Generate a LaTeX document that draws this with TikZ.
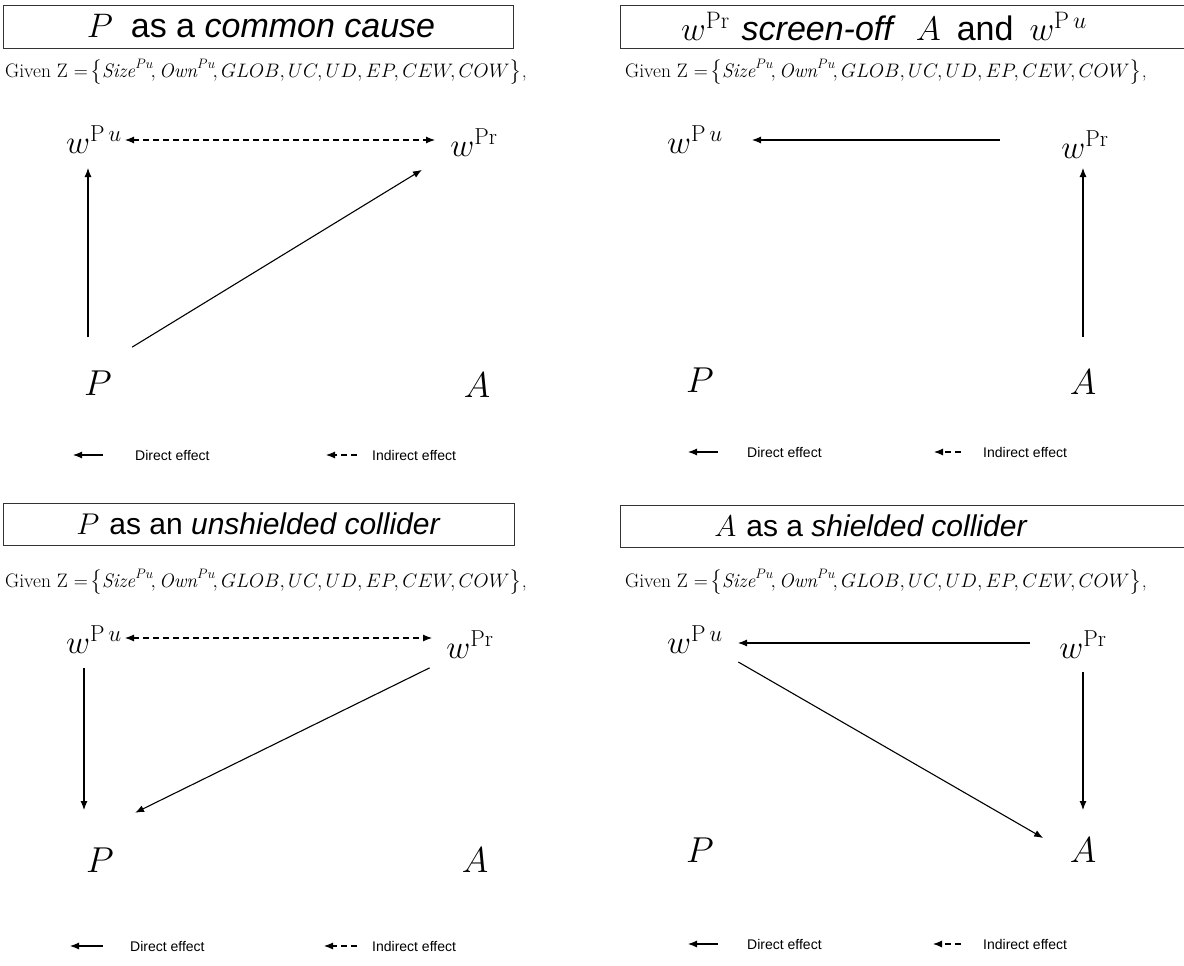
\RequirePackage{fix-cm}
\documentclass[tikz,border=0pt]{standalone}
\usepackage{amsmath}
\usepackage{fontspec}
\setsansfont{Liberation Sans}
\usetikzlibrary{positioning,arrows.meta}

\begin{document}
\begin{tikzpicture}[
  x=1pt, y=-1pt,
  every node/.style={inner sep=0pt},
  var/.style={font=\fontsize{36}{40}\selectfont},
  wvar/.style={font=\fontsize{33}{38}\selectfont},
  titlebox/.style={draw=black!80, line width=0.8pt, font=\sffamily\fontsize{30}{34}\selectfont},
  titlebig/.style={titlebox, font=\sffamily\fontsize{34}{38}\selectfont},
  given/.style={anchor=west, font=\fontsize{19.5}{22}\selectfont},
  keytext/.style={anchor=west, font=\sffamily\fontsize{14}{16}\selectfont},
  direct/.style={-{Latex[length=9pt,width=7pt]}, line width=1.1pt},
  indirect/.style={direct, dash pattern=on 6pt off 4pt}
]
  \useasboundingbox (0,0) rectangle (1184,966);
  \clip (0,0) rectangle (1184,966);

  % top left
  \node[titlebig, minimum width=510pt, minimum height=43pt] (t1) at (258,26.5)
    {\hspace*{6pt}$P$\hspace{18pt}as a \textit{common cause}};
  \node[given] (g1) at (5,72) {Given Z $=\!\big\{\mathit{Size}^{Pu}\!,\mathit{Own}^{Pu}\!,GLOB,UC,UD,EP,CEW,COW\big\}$,};
  \node[wvar] (wpu1) at (94,140) {$w^{\mathrm{P}\,u}$};
  \node[wvar] (wpr1) at (474,143) {$w^{\mathrm{Pr}}$};
  \node[var] (p1) at (98,383) {$P$};
  \node[var] (a1) at (477,385) {$A$};
  \draw[indirect, {Latex[length=9pt,width=7pt]}-{Latex[length=9pt,width=7pt]}, shorten <=31pt, shorten >=39pt]
    (wpu1.center) -- ([yshift=3pt]wpr1.center);
  \draw[direct, shorten <=46pt, shorten >=28pt] ([xshift=-10pt]p1.center) -- ([xshift=-6pt]wpu1.center);
  \draw[direct, shorten <=40pt, shorten >=61pt] ([yshift=15pt]p1.center) -- ([yshift=5pt]wpr1.center);
  \node[keytext] (dtxt1) at (135,455) {Direct effect};
  \node[keytext] (itxt1) at (372,455) {Indirect effect};
  \coordinate (dkey1) at (73,455);
  \coordinate (ikey1) at (326,455);
  \draw[direct] ([xshift=-32pt]dtxt1.west) -- (dkey1);
  \draw[indirect] ([xshift=-15pt]itxt1.west) -- (ikey1);

  % top right
  \node[titlebig, minimum width=580pt, minimum height=43pt] (t2) at (910,26.5)
    {$w^{\mathrm{Pr}}$\hspace{12pt}\textit{screen-off}\hspace{20pt}$A$\hspace{16pt}and\hspace{16pt}$w^{\mathrm{P}\,u}$\hspace*{52pt}};
  \node[given] (g2) at (625,72) {Given Z $=\!\big\{\mathit{Size}^{Pu}\!,\mathit{Own}^{Pu}\!,GLOB,UC,UD,EP,CEW,COW\big\}$,};
  \node[wvar] (wpu2) at (695,140) {$w^{\mathrm{P}\,u}$};
  \node[wvar] (wpr2) at (1085,145) {$w^{\mathrm{Pr}}$};
  \node[var] (p2) at (700,380) {$P$};
  \node[var] (a2) at (1083,382) {$A$};
  \draw[direct, shorten <=85pt, shorten >=57pt] ([yshift=5pt]wpr2.center) -- (wpu2.center);
  \draw[direct, shorten <=45pt, shorten >=23pt] (a2.center) -- ([xshift=-2pt]wpr2.center);
  \node[keytext] (dtxt2) at (747,452) {Direct effect};
  \node[keytext] (itxt2) at (983,452) {Indirect effect};
  \coordinate (dkey2) at (688,452);
  \coordinate (ikey2) at (934,452);
  \draw[direct] ([xshift=-29pt]dtxt2.west) -- (dkey2);
  \draw[indirect] ([xshift=-22pt]itxt2.west) -- (ikey2);

  % bottom left
  \node[titlebox, minimum width=511pt, minimum height=42pt] (t3) at (258.5,524)
    {$P$\hspace{10pt}as an \textit{unshielded collider}};
  \node[given] (g3) at (5,582) {Given Z $=\!\big\{\mathit{Size}^{Pu}\!,\mathit{Own}^{Pu}\!,GLOB,UC,UD,EP,CEW,COW\big\}$,};
  \node[wvar] (wpu3) at (94,640) {$w^{\mathrm{P}\,u}$};
  \node[wvar] (wpr3) at (470,645) {$w^{\mathrm{Pr}}$};
  \node[var] (p3) at (100,860) {$P$};
  \node[var] (a3) at (475,860) {$A$};
  \draw[indirect, {Latex[length=9pt,width=7pt]}-{Latex[length=9pt,width=7pt]}, shorten <=31pt, shorten >=38pt]
    ([yshift=2pt]wpu3.center) -- ([yshift=7pt]wpr3.center);
  \draw[direct, shorten <=28pt, shorten >=50pt] ([xshift=-10pt]wpu3.center) -- ([xshift=-16pt]p3.center);
  \draw[direct, shorten <=45pt, shorten >=39pt] ([yshift=-3pt]wpr3.center) -- ([yshift=30pt]p3.center);
  \node[keytext] (dtxt3) at (130,946) {Direct effect};
  \node[keytext] (itxt3) at (372,946) {Indirect effect};
  \coordinate (dkey3) at (70,946);
  \coordinate (ikey3) at (324,946);
  \draw[direct] ([xshift=-27pt]dtxt3.west) -- (dkey3);
  \draw[indirect] ([xshift=-15pt]itxt3.west) -- (ikey3);

  % bottom right
  \node[titlebox, minimum width=580pt, minimum height=42pt] (t4) at (910,526)
    {$A$\hspace{10pt}as a \textit{shielded collider}\hspace*{78pt}};
  \node[given] (g4) at (625,582) {Given Z $=\!\big\{\mathit{Size}^{Pu}\!,\mathit{Own}^{Pu}\!,GLOB,UC,UD,EP,CEW,COW\big\}$,};
  \node[wvar] (wpu4) at (695,640) {$w^{\mathrm{P}\,u}$};
  \node[wvar] (wpr4) at (1083,645) {$w^{\mathrm{Pr}}$};
  \node[var] (p4) at (700,850) {$P$};
  \node[var] (a4) at (1083,850) {$A$};
  \draw[direct, shorten <=53pt, shorten >=43pt] ([yshift=2pt]wpr4.center) -- ([yshift=-3pt]wpu4.center);
  \draw[direct, shorten <=50pt, shorten >=46pt] ([yshift=3pt]wpu4.center) -- ([yshift=-11pt]a4.center);
  \draw[direct, shorten <=27pt, shorten >=40pt] (wpr4.center) -- (a4.center);
  \node[keytext] (dtxt4) at (747,944) {Direct effect};
  \node[keytext] (itxt4) at (983,944) {Indirect effect};
  \coordinate (dkey4) at (688,944);
  \coordinate (ikey4) at (933,944);
  \draw[direct] ([xshift=-29pt]dtxt4.west) -- (dkey4);
  \draw[indirect] ([xshift=-22pt]itxt4.west) -- (ikey4);
\end{tikzpicture}
\end{document}
